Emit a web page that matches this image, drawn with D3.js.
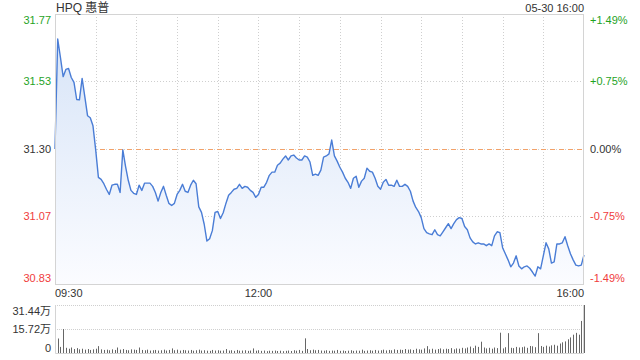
<!DOCTYPE html>
<html lang="zh">
<head>
<meta charset="UTF-8">
<title>HPQ 惠普</title>
<script src="https://cdn.jsdelivr.net/npm/d3@7"></script>
<style>
  *{margin:0;padding:0}
  body{background:#fff;width:640px;height:360px;overflow:hidden}
  text{font-family:"Liberation Sans",Arial,"Noto Sans CJK SC",sans-serif;font-size:11px}
</style>
</head>
<body>
<div id="chart"></div>
<script>
    var title = 'HPQ 惠普', stamp = '05-30 16:00';
    var preClose = 31.30;
    var priceLabels = ['31.77', '31.53', '31.30', '31.07', '30.83'];
    var pctValues = [0.0149, 0.00745, 0, -0.00745, -0.0149];
    var pctLabels = ['+1.49%', '+0.75%', '0.00%', '-0.75%', '-1.49%'];
    var timeLabels = [{m: 0, t: '09:30'}, {m: 150, t: '12:00'}, {m: 390, t: '16:00'}];
    var volLabels = ['31.44万', '15.72万', '0'];
    var volMax = 31.44;

    // one sample every 2 minutes, 09:30 -> 16:00
    var prices = [
        31.30, 31.68, 31.617, 31.55, 31.575, 31.578, 31.547, 31.53, 31.471, 31.47,
        31.544, 31.48, 31.415, 31.408, 31.38, 31.297, 31.202, 31.195, 31.18, 31.16,
        31.143, 31.175, 31.178, 31.178, 31.15, 31.297, 31.24, 31.192, 31.157, 31.147,
        31.143, 31.175, 31.157, 31.182, 31.182, 31.182, 31.171, 31.15, 31.12, 31.15,
        31.171, 31.14, 31.112, 31.105, 31.112, 31.143, 31.157, 31.178, 31.154, 31.15,
        31.175, 31.192, 31.18, 31.10, 31.081, 31.04, 30.982, 30.99, 31.018, 31.081,
        31.084, 31.06, 31.08, 31.112, 31.14, 31.15, 31.161, 31.164, 31.178, 31.164,
        31.171, 31.168, 31.157, 31.15, 31.133, 31.143, 31.168, 31.168, 31.185, 31.209,
        31.22, 31.22, 31.244, 31.251, 31.265, 31.276, 31.262, 31.276, 31.279, 31.269,
        31.262, 31.262, 31.276, 31.272, 31.255, 31.209, 31.213, 31.209, 31.227, 31.272,
        31.276, 31.283, 31.331, 31.276, 31.258, 31.237, 31.22, 31.199, 31.185, 31.164,
        31.199, 31.206, 31.168, 31.189, 31.199, 31.234, 31.223, 31.22, 31.199, 31.171,
        31.161, 31.185, 31.195, 31.175, 31.175, 31.171, 31.192, 31.171, 31.171, 31.178,
        31.171, 31.154, 31.12, 31.098, 31.084, 31.063, 31.025, 31.011, 31.007, 31.004,
        31.021, 31.004, 31.00, 31.014, 31.028, 31.042, 31.025, 31.042, 31.056, 31.063,
        31.06, 31.032, 31.021, 30.993, 30.979, 30.972, 30.976, 30.972, 30.972, 30.966,
        30.972, 30.966, 31.00, 31.014, 31.011, 30.959, 30.938, 30.917, 30.893, 30.906,
        30.931, 30.896, 30.886, 30.893, 30.896, 30.888, 30.875, 30.861, 30.893, 30.886,
        30.931, 30.976, 30.955, 30.906, 30.91, 30.972, 30.972, 30.976, 30.997, 30.966,
        30.938, 30.917, 30.899, 30.896, 30.899, 30.934
    ];

    // volume in 万 shares, same 2 minute steps
    var volumes = [
        1.2, 9.5, 4.0, 15.7, 3.4, 2.8, 3.6, 2.6, 3.2, 2.4, 2.8, 2.2, 2.6, 2.0, 2.4, 2.8,
        4.5, 2.4, 2.0, 2.2, 1.8, 2.4, 2.0, 3.6, 2.2, 2.6, 2.0, 1.8, 2.4, 2.2, 2.0, 3.6,
        2.0, 1.8, 2.2, 1.6, 1.8, 2.0, 1.6, 1.8, 2.2, 1.6, 2.0, 3.0, 1.8, 2.2, 1.6, 2.0,
        1.8, 1.6, 2.0, 1.5, 1.8, 2.2, 1.6, 1.8, 1.5, 1.4, 2.0, 1.6, 1.8, 1.5, 1.6, 2.6,
        1.6, 1.8, 1.4, 2.0, 1.5, 1.6, 1.8, 1.4, 1.6, 3.0, 1.5, 1.8, 1.4, 1.6, 1.2, 1.5,
        1.4, 1.6, 1.3, 1.5, 1.2, 1.4, 1.6, 1.3, 1.8, 1.5, 2.0, 1.4, 9.6, 2.6, 1.8, 2.2,
        1.8, 2.0, 1.6, 1.5, 1.8, 1.4, 1.6, 1.5, 2.0, 1.4, 1.6, 1.3, 1.5, 1.8, 1.4, 1.6,
        1.5, 2.2, 1.4, 1.6, 1.8, 1.5, 2.0, 1.6, 1.8, 2.2, 1.7, 2.0, 1.8, 2.4, 2.0, 2.2,
        2.0, 2.6, 2.2, 2.4, 2.0, 2.8, 2.4, 2.2, 3.0, 4.5, 2.4, 2.8, 2.2, 2.6, 3.0, 2.4,
        2.8, 2.6, 3.2, 2.4, 3.0, 2.8, 3.4, 3.0, 3.6, 4.2, 3.2, 4.8, 4.0, 7.4, 3.6, 3.0,
        3.4, 2.8, 3.6, 3.2, 13.3, 3.0, 3.8, 13.0, 3.4, 3.2, 4.0, 3.6, 3.8, 4.2, 3.4, 4.6,
        4.4, 3.8, 13.0, 4.6, 4.0, 4.8, 4.2, 5.0, 5.4, 4.8, 6.2, 7.0, 7.6, 9.0, 10.2, 12.0,
        13.2, 12.0, 21.0, 31.44
    ];

    var green = '#1fa31f', red = '#f03c3c', dark = '#333';
    function tone(i) { return i < 2 ? green : (i == 2 ? dark : red); }

    // note: "top" is taken by window.top, so use other names
    var plotL = 55, plotR = 584, plotT = 14, plotB = 284;
    var volT = 305, volB = 353;

    var svg = d3.select('#chart').append('svg')
        .attr('width', 640).attr('height', 360);

    var x = d3.scaleLinear().domain([0, 390]).range([plotL, plotR]);
    var y = d3.scaleLinear()
        .domain([preClose * (1 - 0.0149), preClose * (1 + 0.0149)])
        .range([plotB, plotT]);
    var yv = d3.scaleLinear().domain([0, volMax]).range([volB, volT]);

    function minuteOf(d, i) { return i * 2; }

    /* gradient for the area */
    var grad = svg.append('defs').append('linearGradient')
        .attr('id', 'fillGrad').attr('gradientUnits', 'userSpaceOnUse')
        .attr('x1', 0).attr('x2', 0).attr('y1', plotT).attr('y2', plotB);
    grad.append('stop').attr('offset', '0%').attr('stop-color', '#d4e2f7');
    grad.append('stop').attr('offset', '100%').attr('stop-color', '#fbfcff');

    /* vertical grid, every 30 minutes */
    svg.append('g').selectAll('line')
        .data(d3.range(30, 390, 30))
        .enter().append('line')
        .attr('x1', function (d) { return Math.round(x(d)) + 0.5; })
        .attr('x2', function (d) { return Math.round(x(d)) + 0.5; })
        .attr('y1', plotT).attr('y2', plotB)
        .attr('stroke', '#cfcfcf').attr('stroke-dasharray', '1,2');

    /* horizontal grid */
    svg.append('g').selectAll('line')
        .data(pctValues.slice(1, 4))
        .enter().append('line')
        .attr('x1', plotL).attr('x2', plotR)
        .attr('y1', function (d) { return Math.round(y(preClose * (1 + d))) + 0.5; })
        .attr('y2', function (d) { return Math.round(y(preClose * (1 + d))) + 0.5; })
        .attr('stroke', '#cfcfcf').attr('stroke-dasharray', '1,2');

    // previous close line
    svg.append('line')
        .attr('x1', plotL).attr('x2', plotR)
        .attr('y1', Math.round(y(preClose)) + 0.5).attr('y2', Math.round(y(preClose)) + 0.5)
        .attr('stroke', '#f2a26a').attr('stroke-dasharray', '5,4');

    // watermark
    svg.append('text')
        .attr('x', 573).attr('y', 282)
        .attr('text-anchor', 'end')
        .attr('fill', '#d2d2d2').style('font-size', '12px')
        .text('sina.com');

    /* area + line */
    var area = d3.area()
        .x(function (d, i) { return x(minuteOf(d, i)); })
        .y0(plotB)
        .y1(function (d) { return y(d); });
    var line = d3.line()
        .x(function (d, i) { return x(minuteOf(d, i)); })
        .y(function (d) { return y(d); });

    svg.append('path').datum(prices)
        .attr('d', area).attr('fill', 'url(#fillGrad)');
    svg.append('path').datum(prices)
        .attr('d', line).attr('fill', 'none')
        .attr('stroke', '#4a7dd6').attr('stroke-width', 1.4)
        .attr('stroke-linejoin', 'round');

    // frame of the price panel
    svg.append('rect')
        .attr('x', plotL + 0.5).attr('y', plotT + 0.5)
        .attr('width', plotR - plotL - 1).attr('height', plotB - plotT)
        .attr('fill', 'none').attr('stroke', '#d4d4d4');

    /* labels on both sides */
    function labelY(i) {
        var v = y(preClose * (1 + pctValues[i]));
        if (i == 0) return v + 6;
        if (i == pctValues.length - 1) return v - 6;
        return v;
    }
    svg.append('g').selectAll('text')
        .data(priceLabels)
        .enter().append('text')
        .attr('x', 51).attr('y', function (d, i) { return labelY(i); })
        .attr('dy', '0.35em').attr('text-anchor', 'end')
        .attr('fill', function (d, i) { return tone(i); })
        .text(function (d) { return d; });

    svg.append('g').selectAll('text')
        .data(pctLabels)
        .enter().append('text')
        .attr('x', 590).attr('y', function (d, i) { return labelY(i); })
        .attr('dy', '0.35em')
        .attr('fill', function (d, i) { return tone(i); })
        .text(function (d) { return d; });

    // title and time stamp
    svg.append('text').attr('x', 56).attr('y', 12)
        .attr('fill', dark).style('font-size', '12px').text(title);
    svg.append('text').attr('x', 584).attr('y', 12)
        .attr('text-anchor', 'end').attr('fill', dark).text(stamp);

    // time labels
    svg.append('g').selectAll('text')
        .data(timeLabels)
        .enter().append('text')
        .attr('x', function (d) { return x(d.m); })
        .attr('y', 297)
        .attr('text-anchor', function (d, i) { return i == 0 ? 'start' : (i == timeLabels.length - 1 ? 'end' : 'middle'); })
        .attr('fill', dark)
        .text(function (d) { return d.t; });

    /* volume panel */
    svg.append('g').selectAll('line')
        .data([volMax, volMax / 2])
        .enter().append('line')
        .attr('x1', plotL).attr('x2', plotR)
        .attr('y1', function (d) { return Math.round(yv(d)) + 0.5; })
        .attr('y2', function (d) { return Math.round(yv(d)) + 0.5; })
        .attr('stroke', '#cfcfcf').attr('stroke-dasharray', '1,1');

    svg.append('g').selectAll('rect')
        .data(volumes)
        .enter().append('rect')
        .attr('x', function (d, i) { return Math.round(x(minuteOf(d, i))); })
        .attr('y', function (d) { return yv(d); })
        .attr('width', 1)
        .attr('height', function (d) { return volB - yv(d); })
        .attr('fill', '#666');

    svg.append('path')
        .attr('d', 'M' + (plotL + 0.5) + ',' + volT + 'V' + (volB + 0.5) + 'H' + (plotR - 0.5) + 'V' + volT)
        .attr('fill', 'none').attr('stroke', '#d4d4d4');

    svg.append('g').selectAll('text')
        .data(volLabels)
        .enter().append('text')
        .attr('x', 51)
        .attr('y', function (d, i) { return [yv(volMax) + 6, yv(volMax / 2), yv(0) - 5][i]; })
        .attr('dy', '0.35em').attr('text-anchor', 'end')
        .attr('fill', dark)
        .text(function (d) { return d; });
</script>
</body>
</html>
